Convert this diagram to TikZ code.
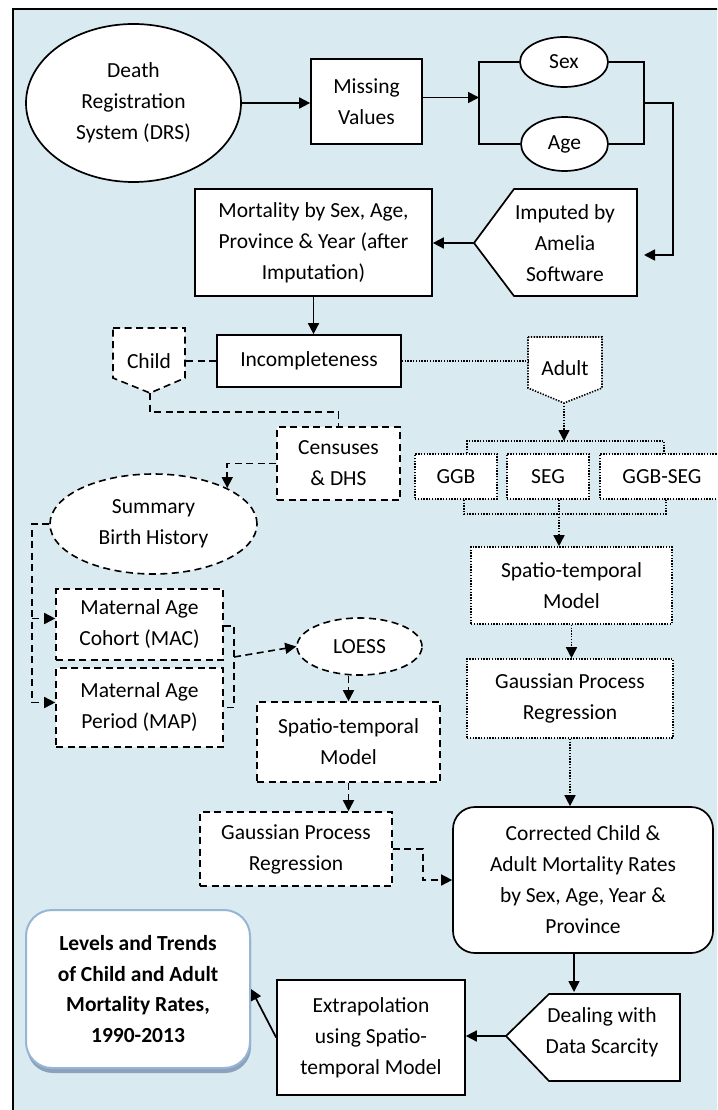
\documentclass[tikz,border=0pt]{standalone}
\usepackage{fontspec}
\setmainfont{Carlito}
\usetikzlibrary{arrows.meta,shapes.geometric}
\definecolor{bgblue}{RGB}{218,234,241}
\definecolor{levborder}{RGB}{150,182,214}
\definecolor{levshadow}{RGB}{140,162,188}
\begin{document}
\begin{tikzpicture}[x=1pt,y=-1pt,
  txt/.style={align=center,font=\fontsize{21.5}{31}\selectfont,inner sep=0pt},
  solidln/.style={line width=1.7pt},
  dashln/.style={line width=1.6pt,dash pattern=on 7pt off 4.5pt},
  dotln/.style={line width=1.6pt,dash pattern=on 1.4pt off 1.4pt},
  sbox/.style={txt,draw,fill=white,solidln,rectangle},
  dbox/.style={txt,draw,fill=white,dashln,rectangle},
  tbox/.style={txt,draw,fill=white,dotln,rectangle},
  sell/.style={txt,draw,fill=white,solidln,ellipse},
  dell/.style={txt,draw,fill=white,dashln,ellipse},
  arr/.style={-{Triangle[length=11pt,width=11pt]}},
]
\useasboundingbox (0,0) rectangle (717,1110);
\clip (0,0) rectangle (717,1110);
\fill[white] (0,0) rectangle (717,1110);
\draw[fill=bgblue,line width=1.6pt] (13,9) rectangle (730,1125);

% ---------- top part ----------
\node[sell,minimum width=215pt,minimum height=158pt] (drs) at (133.5,103) {Death\\Registration\\System (DRS)};
\node[sbox,minimum width=111pt,minimum height=85pt] (mv) at (366.5,101.5) {Missing\\Values};
\node[sell,minimum width=88pt,minimum height=50pt] (sex) at (564,62) {Sex};
\node[sell,minimum width=87pt,minimum height=54pt] (age) at (564.5,144) {Age};

\draw[solidln,fill=white] (474,243) coordinate (imptip) -- (514,189) -- (637,189) -- (637,296) -- (514,296) -- cycle;
\node[txt] (imp) at (565,243) {Imputed by\\Amelia\\Software};

\node[sbox,minimum width=237pt,minimum height=107pt] (mort) at (313.5,242.5) {Mortality by Sex, Age,\\Province \& Year (after\\Imputation)};
\node[sbox,minimum width=184pt,minimum height=52pt] (inc) at (309,361) {Incompleteness};

\draw[dashln,fill=white] (113,328) -- (185,328) -- (185,378) -- (150,393) coordinate (childtip) -- (113,378) -- cycle;
\node[txt] (child) at (149,361) {Child};
\draw[dotln,fill=white] (528,337) -- (602,337) -- (602,388) -- (564,403) coordinate (adulttip) -- (528,388) -- cycle;
\node[txt] (adult) at (565,368) {Adult};

% ---------- adult branch ----------
\node[tbox,minimum width=82pt,minimum height=45pt] (ggb) at (456,476.5) {GGB};
\node[tbox,minimum width=82pt,minimum height=45pt] (seg) at (548,476.5) {SEG};
\node[tbox,minimum width=124pt,minimum height=45pt] (ggbseg) at (662,476.5) {GGB-SEG};
\node[tbox,minimum width=201pt,minimum height=77pt] (ast) at (571.5,585.5) {Spatio-temporal\\Model};
\node[tbox,minimum width=206pt,minimum height=79pt] (agp) at (570,698.5) {Gaussian Process\\Regression};

% ---------- child branch ----------
\node[dbox,minimum width=123pt,minimum height=73pt] (cen) at (338.5,463.5) {Censuses\\\& DHS};
\node[dell,minimum width=207pt,minimum height=100pt] (sbh) at (153.5,524) {Summary\\Birth History};
\node[dbox,minimum width=167pt,minimum height=71pt] (mac) at (139.5,624.5) {Maternal Age\\Cohort (MAC)};
\node[dbox,minimum width=167pt,minimum height=79pt] (map) at (139.5,707.5) {Maternal Age\\Period (MAP)};
\node[dell,minimum width=125pt,minimum height=57pt] (loess) at (359.5,646.5) {LOESS};
\node[dbox,minimum width=183pt,minimum height=80pt] (cst) at (348.5,742) {Spatio-temporal\\Model};
\node[dbox,minimum width=192pt,minimum height=74pt] (cgp) at (296,849) {Gaussian Process\\Regression};

% ---------- bottom ----------
\node[txt,draw,fill=white,solidln,rounded corners=22pt,minimum width=260pt,minimum height=146pt] (corr) at (583,880) {Corrected Child \&\\Adult Mortality Rates\\by Sex, Age, Year \&\\Province};
\draw[solidln,fill=white] (506,1036) coordinate (dealtip) -- (549,994) -- (680,994) -- (680,1081) -- (549,1081) -- cycle;
\node[txt] (deal) at (602,1032) {Dealing with\\Data Scarcity};
\node[sbox,minimum width=188pt,minimum height=115pt] (extr) at (371,1037.5) {Extrapolation\\using Spatio-\\temporal Model};
\fill[levshadow,rounded corners=26pt] (27,914) rectangle (251,1073);
\node[txt,draw=levborder,fill=white,line width=2pt,rounded corners=26pt,minimum width=224pt,minimum height=158pt,font=\bfseries\fontsize{21.5}{30.5}\selectfont] (lev) at (138,989) {Levels and Trends\\of Child and Adult\\Mortality Rates,\\1990-2013};

% ---------- connectors: top ----------
\draw[solidln,arr] (drs.east) -- (drs.east -| mv.west);
\coordinate (bl1) at (479,62);
\coordinate (br1) at (644,62);
\coordinate (mvout) at ([yshift=4pt]mv.east);
\draw[solidln] (sex.west) -- (bl1) -- (bl1 |- age.west) -- (age.west);
\draw[solidln] (sex.east) -- (br1) -- (br1 |- age.east) -- (age.east);
\draw[solidln,arr] (mvout) -- (mvout -| bl1);
\coordinate (rexit) at (644,103);
\coordinate (rcorner) at (673,103);
\coordinate (impin) at (644,255);
\draw[solidln,arr] (rexit) -- (rcorner) |- (impin);
\draw[solidln,arr] (imptip) -- (imptip -| mort.east);
\draw[solidln,arr] (mort.south) -- (mort.south |- inc.north);
\coordinate (childr) at (185,361);
\coordinate (adultl) at (528,361);
\draw[dashln] (inc.west) -- (childr);
\draw[dotln] (inc.east) -- (adultl);

% ---------- connectors: adult ----------
\coordinate (tb) at (564,441);
\coordinate (tbl) at (467,441);
\coordinate (tbr) at (664,441);
\draw[dotln,arr] (adulttip) -- (tb);
\draw[dotln] (tbl |- ggb.north) -- (tbl) -- (tbr) -- (tbr |- ggbseg.north);
\coordinate (bbl) at (464,514);
\coordinate (bbr) at (666,514);
\coordinate (bbm) at (559,514);
\draw[dotln] (bbl |- ggb.south) -- (bbl) -- (bbr) -- (bbr |- ggbseg.south);
\draw[dotln] (bbm |- seg.south) -- (bbm);
\draw[dotln,arr] (bbm) -- (bbm |- ast.north);
\draw[dotln,arr] (ast.south) -- (ast.south |- agp.north);
\draw[dotln,arr] (agp.south) -- (agp.south |- corr.north);

% ---------- connectors: child ----------
\coordinate (cpath) at (150,412);
\draw[dashln] (childtip) -- (cpath) -| (cen.north);
\draw[dashln,arr] (cen.west) -| (sbh.north east);
\coordinate (sl) at (32,524);
\coordinate (macin) at ([yshift=6pt]mac.west);
\coordinate (mapin) at ([yshift=5pt]map.west);
\draw[dashln] (sbh.west) -- (sl) -- (sl |- mapin);
\draw[dashln,arr] (sl |- macin) -- (macin);
\draw[dashln,arr] (sl |- mapin) -- (mapin);
\coordinate (macout) at ([yshift=-1.5pt]mac.east);
\coordinate (rb) at (234,657);
\draw[dashln] (macout) -- (macout -| rb) -- (map.east -| rb) -- (map.east);
\draw[dashln,arr] (rb) -- (loess.west);
\draw[dashln,arr] (loess.south -| cst.north) -- (cst.north);
\draw[dashln,arr] (cst.south) -- (cst.south |- cgp.north);
\draw[dashln,arr] (cgp.east) -- ++(30,0) |- (corr.west);

% ---------- connectors: bottom ----------
\coordinate (dealtop) at (574,992);
\draw[solidln,arr] (corr.south -| dealtop) -- (dealtop);
\draw[solidln,arr] (dealtip) -- (dealtip -| extr.east);
\draw[solidln,arr] (extr.west) -- (lev.east);
\end{tikzpicture}
\end{document}
